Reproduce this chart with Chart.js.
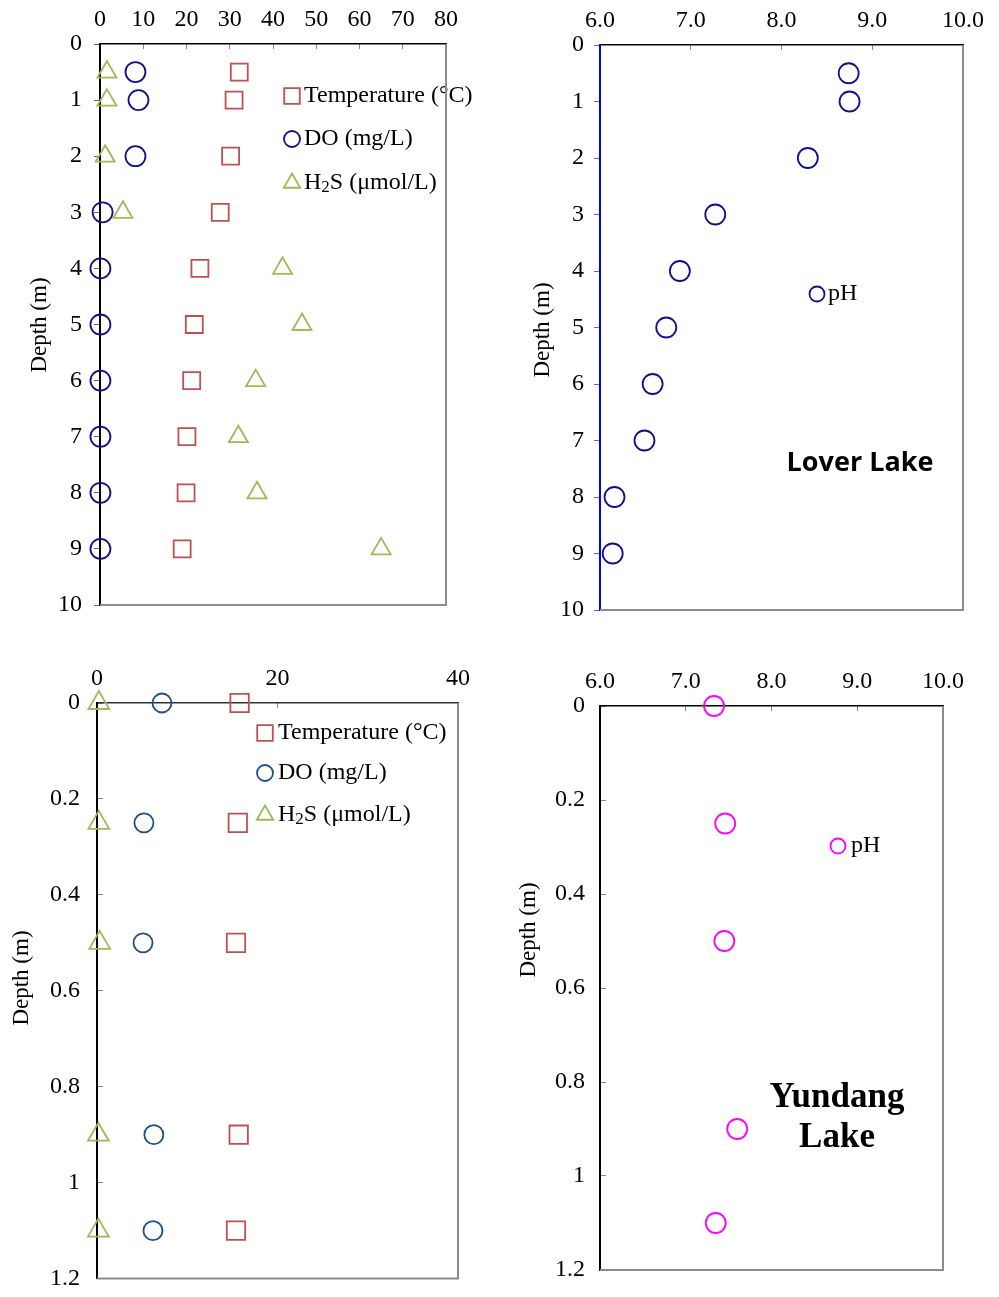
<!DOCTYPE html>
<html>
<head>
<meta charset="utf-8">
<script src="https://cdn.jsdelivr.net/npm/chart.js@4.4.1/dist/chart.umd.min.js"></script>
<style>
    body { margin: 0; background: #fff; width: 999px; height: 1297px; position: relative; overflow: hidden; }
    canvas { position: absolute; }
</style>
</head>
<body>
<canvas id="loverMain" width="490" height="640" style="left:0px;top:0px"></canvas>
<canvas id="loverPH" width="499" height="640" style="left:500px;top:0px"></canvas>
<canvas id="yundangMain" width="490" height="680" style="left:0px;top:636px"></canvas>
<canvas id="yundangPH" width="499" height="680" style="left:500px;top:636px"></canvas>
<script>
// Lover Lake profile (depth in m)
const loverDepth = [0.5, 1, 2, 3, 4, 5, 6, 7, 8, 9];
const loverTemp = [32.2, 31.0, 30.2, 27.8, 23.1, 21.8, 21.2, 20.1, 19.9, 19.0];
const loverDO = [8.2, 8.9, 8.2, 0.6, 0.1, 0.1, 0.1, 0.1, 0.1, 0.1];
const loverH2S = [1.6, 1.6, 1.2, 5.3, 42.2, 46.7, 36.0, 32.0, 36.3, 65.0];
const loverPH = [8.74, 8.75, 8.29, 7.27, 6.88, 6.73, 6.58, 6.49, 6.16, 6.14];

// Yundang Lake profile
const yundangDepth = [0, 0.25, 0.5, 0.9, 1.1];
const yundangTemp = [15.8, 15.6, 15.4, 15.7, 15.4];
const yundangDO = [7.2, 5.2, 5.1, 6.3, 6.2];
const yundangH2S = [0.2, 0.2, 0.3, 0.15, 0.15];
const yundangPH = [7.33, 7.46, 7.45, 7.60, 7.35];

const seriesNames = ['Temperature (°C)', 'DO (mg/L)', 'pH'];
const depthTitle = 'Depth (m)';

const SERIF = '"Liberation Serif", "Times New Roman", serif';
const RED = '#c0504d';
const GREEN = '#9bbb59';
const NAVY = '#10108a';

function toPoints(xs, ys) {
    return xs.map((v, i) => ({ x: v, y: ys[i] }));
}

function drawMarker(ctx, style, color, radius, x, y) {
    ctx.save();
    ctx.strokeStyle = color;
    ctx.fillStyle = 'rgba(0,0,0,0)';
    ctx.lineWidth = 1.8;
    Chart.helpers.drawPoint(ctx, { pointStyle: style, radius: radius, rotation: 0, borderWidth: 1.8 }, x, y);
    ctx.restore();
}

const panelDecor = {
    id: 'panelDecor',
    afterDatasetsDraw(chart, args, opts) {
        const ctx = chart.ctx;
        const a = chart.chartArea;
        const ox = opts.offset[0], oy = opts.offset[1];
        ctx.save();

        // y axis title
        ctx.fillStyle = '#000';
        ctx.font = '23px ' + SERIF;
        ctx.textAlign = 'center';
        ctx.textBaseline = 'middle';
        ctx.save();
        ctx.translate(opts.yTitle[0] - ox, opts.yTitle[1] - oy);
        ctx.rotate(-Math.PI / 2);
        ctx.fillText(depthTitle, 0, 0);
        ctx.restore();

        // legend entries
        (opts.legend || []).forEach(item => {
            drawMarker(ctx, item.style, item.color, item.radius, item.mx - ox, item.y - oy);
            let x = item.tx - ox;
            ctx.fillStyle = '#000';
            ctx.textAlign = 'left';
            ctx.textBaseline = 'middle';
            item.parts.forEach(p => {
                ctx.font = p[1] + 'px ' + SERIF;
                ctx.fillText(p[0], x, item.y - oy + (p[2] || 0));
                x += ctx.measureText(p[0]).width;
            });
        });

        // lake names
        (opts.labels || []).forEach(lb => {
            ctx.fillStyle = '#000';
            ctx.font = lb.font;
            ctx.textAlign = 'center';
            ctx.textBaseline = 'middle';
            ctx.fillText(lb.text, lb.x - ox, lb.y - oy);
        });

        // right and bottom frame
        ctx.strokeStyle = '#8c8c8c';
        ctx.lineWidth = 2;
        ctx.beginPath();
        ctx.moveTo(a.right, a.top);
        ctx.lineTo(a.right, a.bottom);
        ctx.lineTo(a.left, a.bottom);
        ctx.stroke();
        ctx.restore();
    }
};

function makePanel(id, cfg) {
    const ctx = document.getElementById(id).getContext('2d');
    return new Chart(ctx, {
        type: 'scatter',
        data: { datasets: cfg.datasets },
        plugins: [panelDecor],
        options: {
            responsive: false,
            animation: false,
            events: [],
            clip: false,
            layout: { padding: { left: 0, top: 0, right: cfg.padRight, bottom: cfg.padBottom } },
            elements: { point: { borderWidth: 1.8, backgroundColor: 'rgba(0,0,0,0)' } },
            scales: {
                x: {
                    type: 'linear',
                    position: 'top',
                    min: cfg.xMin,
                    max: cfg.xMax,
                    afterFit: s => { s.height = cfg.xHeight; },
                    border: { color: cfg.topColor, width: 1.5 },
                    grid: { drawOnChartArea: false, tickLength: -5, tickColor: '#888', tickWidth: 1 },
                    ticks: {
                        stepSize: cfg.xStep,
                        padding: 15,
                        autoSkip: false,
                        maxRotation: 0,
                        color: '#000',
                        font: { family: SERIF, size: 24 },
                        callback: cfg.xFormat
                    }
                },
                y: {
                    type: 'linear',
                    reverse: true,
                    min: 0,
                    max: cfg.yMax,
                    afterFit: s => { s.width = cfg.yWidth; },
                    border: { color: cfg.leftColor, width: 2 },
                    grid: { drawOnChartArea: false, tickLength: cfg.yTick, tickColor: cfg.yTickColor, tickWidth: 1 },
                    ticks: {
                        stepSize: cfg.yStep,
                        padding: cfg.yPad,
                        autoSkip: false,
                        color: '#000',
                        font: { family: SERIF, size: 24 },
                        callback: v => String(parseFloat(v.toFixed(2)))
                    }
                }
            },
            plugins: {
                legend: { display: false },
                tooltip: { enabled: false },
                panelDecor: cfg.decor
            }
        }
    });
}

function markerSet(label, xs, ys, style, color, radius) {
    return {
        label: label,
        data: toPoints(xs, ys),
        pointStyle: style,
        pointRadius: radius,
        borderColor: color,
        pointBorderColor: color,
        pointBackgroundColor: 'rgba(0,0,0,0)',
        pointBorderWidth: 1.8,
        showLine: false,
        clip: false
    };
}

const h2sParts = [['H', 24], ['2', 17, 5], ['S (μmol/L)', 24]];

makePanel('loverMain', {
    datasets: [
        markerSet(seriesNames[0], loverTemp, loverDepth, 'rect', RED, 12),
        markerSet(seriesNames[1], loverDO, loverDepth, 'circle', NAVY, 10),
        markerSet('H2S (μmol/L)', loverH2S, loverDepth, 'triangle', GREEN, 11)
    ],
    xMin: 0, xMax: 80, xStep: 10, yMax: 10, yStep: 1,
    xHeight: 44, yWidth: 100, padRight: 44, padBottom: 35,
    topColor: '#000', leftColor: '#000', yTick: 6, yTickColor: '#666', yPad: 12,
    decor: {
        offset: [0, 0],
        yTitle: [40, 325],
        legend: [
            { style: 'rect', color: RED, radius: 11, mx: 292, tx: 304, y: 96, parts: [[seriesNames[0], 24]] },
            { style: 'circle', color: NAVY, radius: 8, mx: 292, tx: 304, y: 139, parts: [[seriesNames[1], 24]] },
            { style: 'triangle', color: GREEN, radius: 9.5, mx: 292, tx: 304, y: 183, parts: h2sParts }
        ]
    }
});

makePanel('loverPH', {
    datasets: [markerSet(seriesNames[2], loverPH, loverDepth, 'circle', NAVY, 10)],
    xMin: 6, xMax: 10, xStep: 1, yMax: 10, yStep: 1,
    xFormat: v => v.toFixed(1),
    xHeight: 45, yWidth: 100, padRight: 35, padBottom: 30,
    topColor: '#000', leftColor: '#0000ff', yTick: 6, yTickColor: '#6060ff', yPad: 10,
    decor: {
        offset: [500, 0],
        yTitle: [543, 330],
        legend: [
            { style: 'circle', color: NAVY, radius: 7.5, mx: 817, tx: 828, y: 294, parts: [[seriesNames[2], 24]] }
        ],
        labels: [
            { text: 'Lover Lake', x: 860, y: 463, font: 'bold 27px "Open Sans", sans-serif' }
        ]
    }
});

makePanel('yundangMain', {
    datasets: [
        markerSet(seriesNames[0], yundangTemp, yundangDepth, 'rect', RED, 13),
        markerSet(seriesNames[1], yundangDO, yundangDepth, 'circle', '#1f4e8c', 9.5),
        markerSet('H2S (μmol/L)', yundangH2S, yundangDepth, 'triangle', GREEN, 12)
    ],
    xMin: 0, xMax: 40, xStep: 20, yMax: 1.2, yStep: 0.2,
    xHeight: 67, yWidth: 97, padRight: 32, padBottom: 32,
    topColor: '#333', leftColor: '#000', yTick: -6, yTickColor: '#888', yPad: 23,
    decor: {
        offset: [0, 636],
        yTitle: [22, 978],
        legend: [
            { style: 'rect', color: RED, radius: 11, mx: 265, tx: 278, y: 733, parts: [[seriesNames[0], 24]] },
            { style: 'circle', color: '#1f4e8c', radius: 8, mx: 265, tx: 278, y: 773, parts: [[seriesNames[1], 24]] },
            { style: 'triangle', color: GREEN, radius: 9.5, mx: 265, tx: 278, y: 815, parts: h2sParts }
        ]
    }
});

makePanel('yundangPH', {
    datasets: [markerSet(seriesNames[2], yundangPH, yundangDepth, 'circle', '#ff00ff', 10)],
    xMin: 6, xMax: 10, xStep: 1, yMax: 1.2, yStep: 0.2,
    xFormat: v => v.toFixed(1),
    xHeight: 70, yWidth: 100, padRight: 56, padBottom: 46,
    topColor: '#000', leftColor: '#000', yTick: -6, yTickColor: '#888', yPad: 21,
    decor: {
        offset: [500, 636],
        yTitle: [529, 930],
        legend: [
            { style: 'circle', color: '#ff00ff', radius: 7.5, mx: 838, tx: 851, y: 846, parts: [[seriesNames[2], 24]] }
        ],
        labels: [
            { text: 'Yundang', x: 837, y: 1098, font: 'bold 35px ' + SERIF },
            { text: 'Lake', x: 837, y: 1138, font: 'bold 35px ' + SERIF }
        ]
    }
});
</script>
</body>
</html>
